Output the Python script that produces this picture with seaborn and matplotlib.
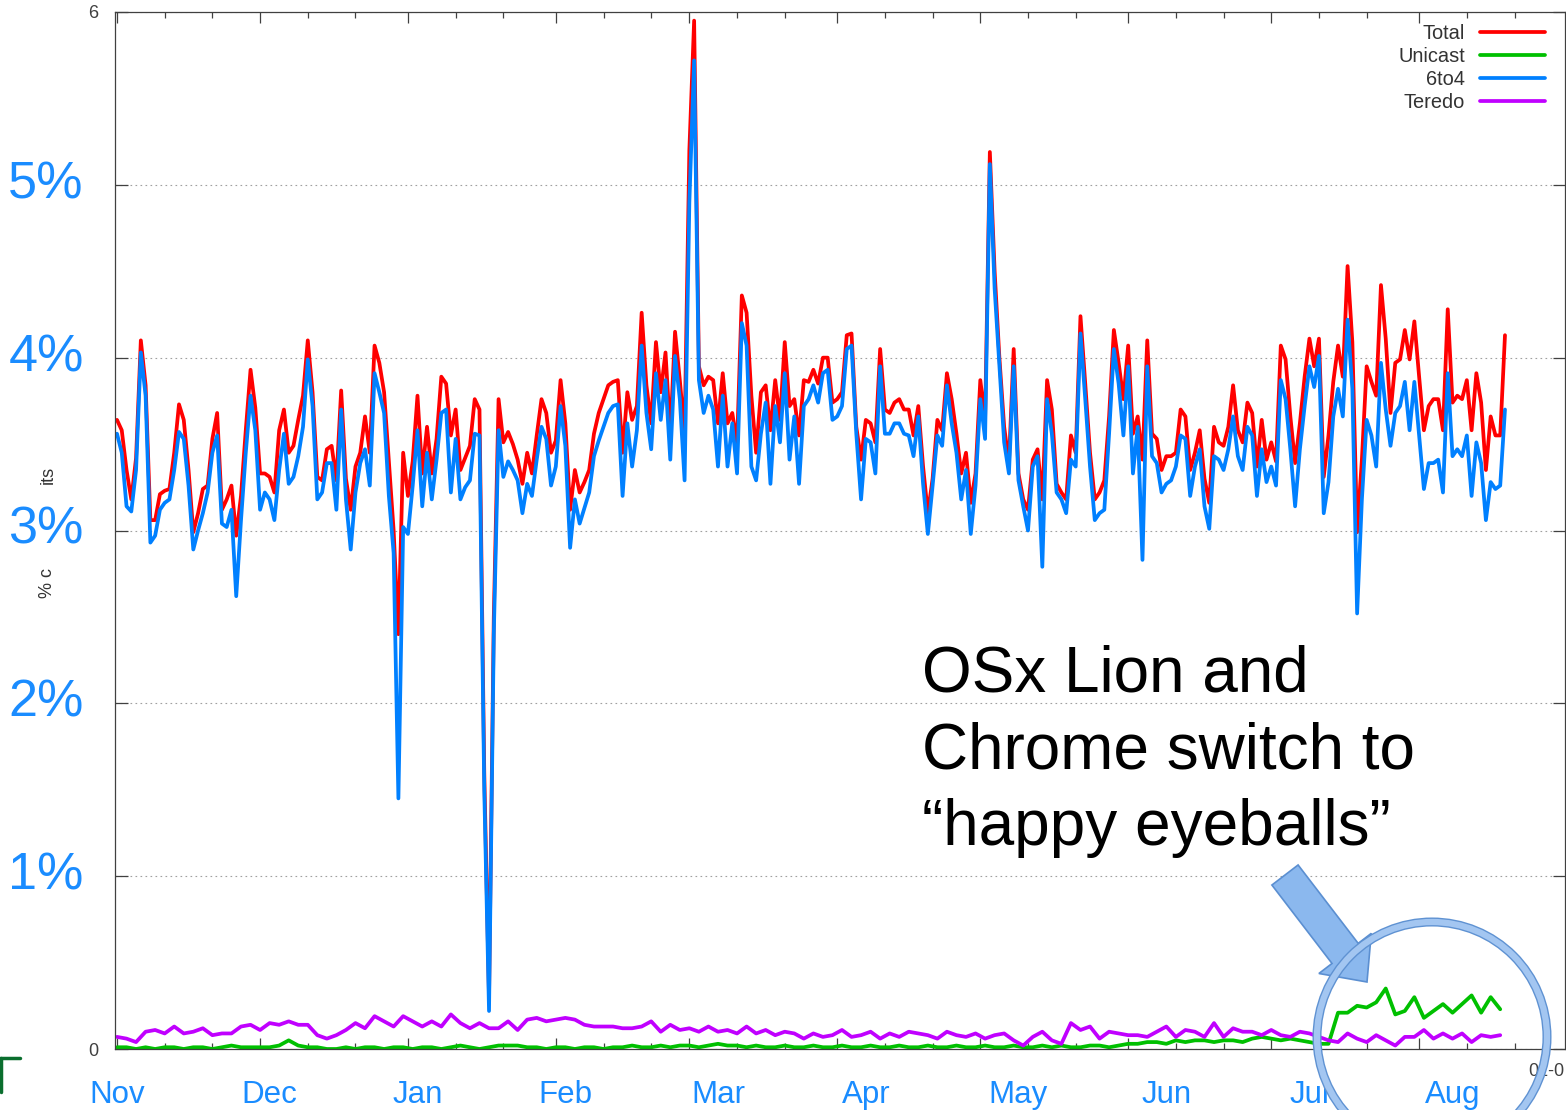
import matplotlib
matplotlib.use("Agg")
import pandas as pd
import seaborn as sns
import matplotlib.pyplot as plt
import matplotlib.dates as mdates
import matplotlib.patches as mpatches
import matplotlib.transforms as mtransforms
from matplotlib.lines import Line2D
from matplotlib.ticker import NullFormatter

# daily values from 2010-11-01, % of clients
total = [
    3.64, 3.58, 3.35, 3.18, 3.42, 4.10, 3.84, 3.06, 3.06, 3.21,
    3.23, 3.24, 3.45, 3.73, 3.64, 3.35, 2.99, 3.10, 3.24, 3.26,
    3.53, 3.68, 3.12, 3.18, 3.26, 2.97, 3.20, 3.58, 3.93, 3.71,
    3.33, 3.33, 3.31, 3.22, 3.58, 3.70, 3.45, 3.49, 3.64, 3.78,
    4.10, 3.80, 3.31, 3.29, 3.47, 3.49, 3.29, 3.81, 3.30, 3.12,
    3.37, 3.45, 3.66, 3.45, 4.07, 3.97, 3.80, 3.40, 3.00, 2.40,
    3.45, 3.20, 3.40, 3.78, 3.33, 3.60, 3.33, 3.53, 3.89, 3.85,
    3.55, 3.70, 3.35, 3.42, 3.49, 3.76, 3.70, 1.60, 0.30, 2.50,
    3.76, 3.51, 3.57, 3.50, 3.41, 3.27, 3.45, 3.33, 3.55, 3.76,
    3.68, 3.45, 3.52, 3.87, 3.62, 3.12, 3.35, 3.22, 3.28, 3.35,
    3.56, 3.68, 3.76, 3.84, 3.86, 3.87, 3.45, 3.80, 3.64, 3.72,
    4.26, 3.84, 3.62, 4.09, 3.80, 4.03, 3.56, 4.15, 3.87, 3.56,
    5.20, 5.95, 3.95, 3.84, 3.89, 3.87, 3.62, 3.91, 3.62, 3.68,
    3.50, 4.36, 4.26, 3.78, 3.45, 3.80, 3.84, 3.58, 3.87, 3.64,
    4.09, 3.72, 3.76, 3.55, 3.87, 3.86, 3.93, 3.85, 4.00, 4.00,
    3.74, 3.76, 3.80, 4.13, 4.14, 3.60, 3.41, 3.64, 3.62, 3.51,
    4.05, 3.70, 3.68, 3.74, 3.76, 3.70, 3.70, 3.55, 3.72, 3.37,
    3.10, 3.30, 3.64, 3.58, 3.91, 3.76, 3.56, 3.33, 3.45, 3.16,
    3.33, 3.87, 3.64, 5.19, 4.50, 4.00, 3.60, 3.39, 4.05, 3.33,
    3.18, 3.12, 3.41, 3.47, 3.18, 3.87, 3.70, 3.27, 3.22, 3.18,
    3.55, 3.45, 4.24, 3.85, 3.45, 3.18, 3.22, 3.29, 3.66, 4.16,
    3.97, 3.76, 4.07, 3.56, 3.66, 3.41, 4.10, 3.56, 3.53, 3.35,
    3.43, 3.43, 3.45, 3.70, 3.66, 3.35, 3.45, 3.58, 3.30, 3.16,
    3.60, 3.51, 3.49, 3.60, 3.84, 3.58, 3.51, 3.74, 3.68, 3.37,
    3.64, 3.41, 3.51, 3.40, 4.07, 3.99, 3.66, 3.39, 3.62, 3.89,
    4.11, 3.95, 4.11, 3.31, 3.55, 3.86, 4.07, 3.89, 4.53, 4.09,
    2.99, 3.41, 3.95, 3.86, 3.78, 4.42, 4.11, 3.68, 3.97, 3.99,
    4.16, 3.99, 4.21, 3.89, 3.58, 3.72, 3.76, 3.76, 3.58, 4.28,
    3.74, 3.78, 3.76, 3.87, 3.58, 3.91, 3.74, 3.35, 3.66, 3.55,
    3.55, 4.13,
]

six_to_four = [
    3.56, 3.45, 3.14, 3.11, 3.35, 4.03, 3.78, 2.93, 2.97, 3.12,
    3.16, 3.18, 3.35, 3.57, 3.53, 3.26, 2.89, 3.00, 3.10, 3.22,
    3.45, 3.55, 3.04, 3.02, 3.12, 2.62, 3.06, 3.45, 3.78, 3.58,
    3.12, 3.22, 3.18, 3.06, 3.35, 3.56, 3.27, 3.31, 3.43, 3.60,
    3.99, 3.72, 3.18, 3.22, 3.39, 3.39, 3.12, 3.70, 3.18, 2.89,
    3.22, 3.39, 3.47, 3.26, 3.91, 3.80, 3.68, 3.20, 2.87, 1.45,
    3.02, 2.98, 3.26, 3.58, 3.14, 3.45, 3.18, 3.41, 3.68, 3.70,
    3.22, 3.53, 3.18, 3.25, 3.29, 3.56, 3.55, 1.50, 0.22, 2.40,
    3.58, 3.31, 3.40, 3.35, 3.29, 3.10, 3.27, 3.20, 3.41, 3.60,
    3.53, 3.26, 3.37, 3.72, 3.49, 2.90, 3.18, 3.04, 3.13, 3.22,
    3.43, 3.52, 3.60, 3.68, 3.72, 3.73, 3.20, 3.62, 3.37, 3.58,
    4.07, 3.68, 3.47, 3.91, 3.64, 3.87, 3.41, 4.01, 3.76, 3.29,
    4.90, 5.72, 3.87, 3.68, 3.78, 3.70, 3.37, 3.78, 3.37, 3.62,
    3.33, 4.20, 4.07, 3.37, 3.29, 3.56, 3.74, 3.27, 3.72, 3.51,
    3.91, 3.41, 3.66, 3.27, 3.72, 3.76, 3.84, 3.74, 3.91, 3.93,
    3.64, 3.66, 3.72, 4.05, 4.07, 3.56, 3.18, 3.53, 3.51, 3.33,
    3.95, 3.56, 3.56, 3.62, 3.62, 3.56, 3.55, 3.43, 3.66, 3.27,
    2.98, 3.26, 3.55, 3.49, 3.84, 3.62, 3.45, 3.18, 3.35, 2.98,
    3.26, 3.76, 3.53, 5.12, 4.40, 3.95, 3.51, 3.33, 3.95, 3.29,
    3.14, 3.00, 3.37, 3.43, 2.79, 3.76, 3.56, 3.22, 3.18, 3.10,
    3.41, 3.37, 4.14, 3.76, 3.37, 3.06, 3.10, 3.12, 3.56, 4.05,
    3.85, 3.55, 3.95, 3.33, 3.60, 2.83, 3.95, 3.43, 3.39, 3.22,
    3.27, 3.29, 3.37, 3.55, 3.53, 3.20, 3.37, 3.47, 3.14, 3.01,
    3.43, 3.41, 3.35, 3.47, 3.66, 3.43, 3.35, 3.60, 3.55, 3.20,
    3.47, 3.28, 3.37, 3.26, 3.87, 3.76, 3.47, 3.14, 3.47, 3.72,
    3.95, 3.83, 4.01, 3.10, 3.28, 3.66, 3.82, 3.66, 4.22, 3.82,
    2.52, 3.18, 3.64, 3.55, 3.37, 3.97, 3.70, 3.49, 3.68, 3.72,
    3.86, 3.58, 3.86, 3.55, 3.24, 3.39, 3.39, 3.41, 3.22, 3.91,
    3.43, 3.47, 3.43, 3.55, 3.20, 3.51, 3.39, 3.06, 3.28, 3.24,
    3.26, 3.70,
]

# every second day from 2010-11-01
teredo = [
    0.07, 0.06, 0.04, 0.10, 0.11, 0.09, 0.13, 0.09, 0.10, 0.12,
    0.08, 0.09, 0.09, 0.13, 0.14, 0.11, 0.15, 0.14, 0.16, 0.14,
    0.14, 0.08, 0.06, 0.08, 0.11, 0.15, 0.12, 0.19, 0.16, 0.13,
    0.19, 0.16, 0.13, 0.16, 0.13, 0.20, 0.15, 0.12, 0.15, 0.12,
    0.12, 0.16, 0.11, 0.17, 0.18, 0.16, 0.17, 0.18, 0.17, 0.14,
    0.13, 0.13, 0.13, 0.12, 0.12, 0.13, 0.16, 0.10, 0.14, 0.11,
    0.12, 0.10, 0.13, 0.10, 0.11, 0.09, 0.13, 0.09, 0.11, 0.08,
    0.10, 0.09, 0.06, 0.09, 0.07, 0.08, 0.11, 0.07, 0.08, 0.10,
    0.06, 0.09, 0.07, 0.10, 0.09, 0.08, 0.06, 0.10, 0.08, 0.07,
    0.09, 0.06, 0.08, 0.09, 0.05, 0.02, 0.07, 0.10, 0.05, 0.03,
    0.15, 0.11, 0.13, 0.06, 0.10, 0.09, 0.08, 0.08, 0.07, 0.10,
    0.13, 0.07, 0.11, 0.10, 0.07, 0.15, 0.07, 0.12, 0.10, 0.10,
    0.08, 0.11, 0.08, 0.07, 0.10, 0.09, 0.07, 0.05, 0.04, 0.09,
    0.06, 0.04, 0.08, 0.05, 0.02, 0.07, 0.07, 0.11, 0.06, 0.09,
    0.06, 0.09, 0.04, 0.08, 0.07, 0.08,
]

unicast = [
    0.01, 0.01, 0.00, 0.01, 0.00, 0.01, 0.01, 0.00, 0.01, 0.01,
    0.00, 0.01, 0.02, 0.01, 0.01, 0.01, 0.01, 0.02, 0.05, 0.02,
    0.01, 0.01, 0.00, 0.00, 0.01, 0.00, 0.01, 0.01, 0.00, 0.01,
    0.01, 0.00, 0.01, 0.01, 0.00, 0.01, 0.02, 0.01, 0.00, 0.01,
    0.02, 0.02, 0.02, 0.01, 0.01, 0.00, 0.01, 0.01, 0.00, 0.01,
    0.01, 0.00, 0.01, 0.01, 0.02, 0.01, 0.01, 0.02, 0.01, 0.02,
    0.02, 0.01, 0.02, 0.03, 0.02, 0.02, 0.01, 0.02, 0.01, 0.01,
    0.02, 0.01, 0.01, 0.02, 0.01, 0.01, 0.02, 0.01, 0.01, 0.02,
    0.01, 0.01, 0.02, 0.01, 0.01, 0.02, 0.01, 0.01, 0.02, 0.01,
    0.01, 0.02, 0.01, 0.01, 0.02, 0.01, 0.01, 0.02, 0.01, 0.02,
    0.01, 0.01, 0.02, 0.02, 0.01, 0.02, 0.03, 0.03, 0.04, 0.04,
    0.03, 0.05, 0.04, 0.05, 0.05, 0.04, 0.05, 0.05, 0.04, 0.06,
    0.07, 0.06, 0.05, 0.06, 0.05, 0.04, 0.03, 0.03, 0.21, 0.21,
    0.25, 0.24, 0.27, 0.35, 0.20, 0.22, 0.30, 0.18, 0.22, 0.26,
    0.21, 0.26, 0.31, 0.21, 0.30, 0.23,
]

series_names = ['Total', 'Unicast', '6to4', 'Teredo']
series_colors = ['#ff0000', '#00c000', '#0080ff', '#c000ff']

month_labels = ['Nov', 'Dec', 'Jan', 'Feb', 'Mar', 'Apr', 'May', 'Jun', 'Jul', 'Aug']
month_label_dates = ['2010-11-01', '2010-12-03', '2011-01-03', '2011-02-03', '2011-03-07',
                     '2011-04-07', '2011-05-09', '2011-06-09', '2011-07-09', '2011-08-08']
pct_values = [1, 2, 3, 4, 5]
pct_labels = ['1%', '2%', '3%', '4%', '5%']
note_lines = ['OSx Lion and', 'Chrome switch to', '\u201chappy eyeballs\u201d']

daily = pd.date_range('2010-11-01', periods=len(total), freq='D')
every2 = pd.date_range('2010-11-01', periods=len(teredo), freq='2D')
df = pd.concat([
    pd.DataFrame({'date': daily, 'value': total, 'series': 'Total'}),
    pd.DataFrame({'date': every2, 'value': unicast, 'series': 'Unicast'}),
    pd.DataFrame({'date': daily, 'value': six_to_four, 'series': '6to4'}),
    pd.DataFrame({'date': every2, 'value': teredo, 'series': 'Teredo'}),
], ignore_index=True)

sns.set_theme(style='white')
plt.rcParams['font.family'] = ['Liberation Sans', 'DejaVu Sans']

W, H = 1566, 1110
fig = plt.figure(figsize=(W / 100, H / 100), dpi=100)
ax = fig.add_axes([115 / W, 1 - 1049 / H, 1450 / W, 1037 / H])

sns.lineplot(data=df, x='date', y='value', hue='series', hue_order=series_names,
             palette=series_colors, linewidth=2.7, estimator=None, ax=ax)

ax.set_xlim(pd.Timestamp('2010-10-31 14:00'), pd.Timestamp('2011-08-31 14:00'))
ax.set_ylim(0, 6)
ax.set_xlabel('')
ax.set_ylabel('')

# gnuplot-style axes
gray = '#404040'
for sp in ax.spines.values():
    sp.set_color(gray)
    sp.set_linewidth(0.9)
ax.xaxis.set_major_locator(mdates.MonthLocator())
ax.xaxis.set_minor_locator(mdates.DayLocator(bymonthday=[11, 21]))
ax.xaxis.set_major_formatter(NullFormatter())
ax.xaxis.set_minor_formatter(NullFormatter())
ax.tick_params(axis='x', which='major', direction='in', length=8, width=0.9,
               top=True, bottom=True, colors=gray)
ax.tick_params(axis='x', which='minor', direction='in', length=4, width=0.9,
               top=True, bottom=True, colors=gray)
ax.set_yticks(range(7))
ax.set_yticklabels(['0', '', '', '', '', '', '6'])
ax.tick_params(axis='y', direction='in', length=9, width=0.9, left=True, right=True,
               labelsize=13, colors=gray, pad=12)
ax.grid(axis='y', color='#a0a0a0', linestyle=(0, (1.5, 3)), linewidth=0.8)

handles = [Line2D([], [], color=c, linewidth=2.7) for c in series_colors]
ax.legend(handles, series_names, loc='upper right',
          bbox_to_anchor=(1 - 20 / 1450, 1 - 12 / 1037), frameon=False,
          markerfirst=False, fontsize=14.4, handlelength=3.25, handletextpad=0.75,
          labelspacing=0.2, borderpad=0, borderaxespad=0, labelcolor='#333333')

# slide overlay: big labels
blue = '#1a8cff'
for lbl, d in zip(month_labels, month_label_dates):
    ax.text(mdates.date2num(pd.Timestamp(d)), -0.0445, lbl, transform=ax.get_xaxis_transform(),
            ha='center', va='center', fontsize=22.5, color=blue, clip_on=False)

trans = mtransforms.blended_transform_factory(fig.transFigure, ax.transData)
for v, lbl in zip(pct_values, pct_labels):
    fig.text(46 / W, v, lbl, transform=trans, ha='center', va='center', fontsize=37.5, color=blue)

for i, line in enumerate(note_lines):
    fig.text(922 / W, 1 - (692 + 76.5 * i) / H, line, ha='left', va='baseline',
             fontsize=46, color='black')

# leftovers of the original axis labels
fig.text(48 / W, 1 - 475 / H, 'its', rotation=90, ha='center', va='center', fontsize=13, color='#333333')
fig.text(48 / W, 1 - 583 / H, '% c', rotation=90, ha='center', va='center', fontsize=13, color='#333333')
fig.text((W - 2) / W, 1 - 1072 / H, '01-0', ha='right', va='center', fontsize=13, color=gray, zorder=0.5)
fig.add_artist(Line2D([0, 20 / W], [1 - 1058 / H] * 2, color='#0a6e2e', linewidth=2.5,
                      transform=fig.transFigure))
fig.add_artist(Line2D([1 / W, 1 / W], [1 - 1058 / H, 1 - 1092 / H], color='#0a6e2e', linewidth=2.5,
                      transform=fig.transFigure))

# arrow and circle highlight
arrow = mpatches.FancyArrow(12.85, (H - 875) / 100, 0.82, -1.07, width=0.33, head_width=0.66,
                            head_length=0.36, length_includes_head=True, facecolor='#8bb8ee',
                            edgecolor='#5b8fd1', linewidth=1.2, transform=fig.dpi_scale_trans, zorder=2)
fig.add_artist(arrow)
for lw, col in [(6.5, '#5f92d2'), (4.5, '#a3c6f1')]:
    fig.add_artist(mpatches.Circle((14.32, (H - 1037) / 100), 1.15, fill=False, edgecolor=col,
                                   linewidth=lw, transform=fig.dpi_scale_trans, zorder=2))

fig.savefig('out.png', dpi=100)
